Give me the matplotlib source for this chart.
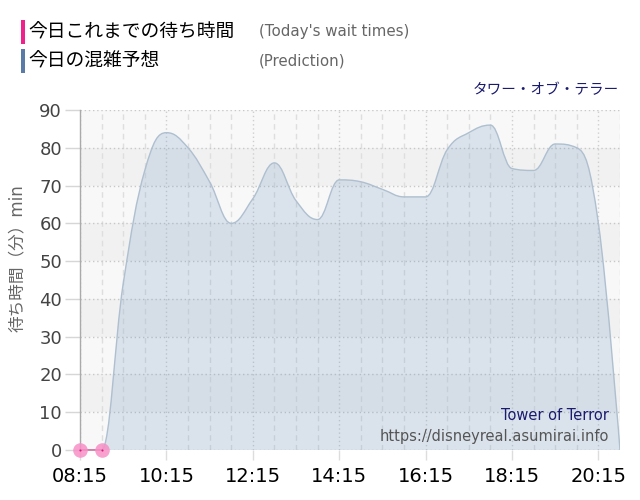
import matplotlib
matplotlib.use("Agg")
import matplotlib.pyplot as plt
from matplotlib.path import Path
from matplotlib.patches import PathPatch, Rectangle
import numpy as np

# ---------------- data ----------------
pred_times = [8.25, 8.75, 9.25, 9.75, 10.25, 10.75, 11.25, 11.75, 12.25, 12.75,
              13.25, 13.75, 14.25, 14.75, 15.25, 15.75, 16.25, 16.75, 17.25,
              17.75, 18.25, 18.75, 19.25, 19.75, 20.25, 20.75]
pred_values = [0, 0, 44, 74, 84, 80, 71, 60, 66.5, 76,
               66, 61, 71.5, 71, 69, 67, 67, 79.5, 84,
               86, 74.5, 74, 81, 80, 60, 0]
actual_times = [8.25, 8.75]
actual_values = [0, 0]
tick_pos = [8.25, 10.25, 12.25, 14.25, 16.25, 18.25, 20.25]
tick_labels = ["08:15", "10:15", "12:15", "14:15", "16:15", "18:15", "20:15"]
y_ticks = [0, 10, 20, 30, 40, 50, 60, 70, 80, 90]

plt.rcParams['font.family'] = ['DejaVu Sans', 'Noto Sans CJK JP']

W, H = 640, 500
fig = plt.figure(figsize=(6.4, 5.0), dpi=100)
ax = fig.add_axes([80 / W, 1 - 450 / H, 540 / W, 340 / H])
ax.set_xlim(8.25, 20.75)
ax.set_ylim(0, 90)
ax.set_facecolor('white')

# alternating bands
for lo in range(0, 90, 10):
    c = '#f8f8f8' if (lo // 10) % 2 == 0 else '#f1f1f1'
    ax.axhspan(lo, lo + 10, color=c, zorder=0, lw=0)

# vertical grid every 30 min
t = 8.25
while t <= 20.75 + 1e-9:
    if any(abs(t - tp) < 1e-6 for tp in tick_pos):
        ax.axvline(t, color='#cfcfcf', lw=1, ls=(0, (1, 2)), zorder=1)
    else:
        ax.axvline(t, color='#dedede', lw=1, ls=(0, (4, 3)), zorder=1)
    t += 0.5
# horizontal grid
for yv in y_ticks:
    ax.axhline(yv, color='#c8c8c8', lw=1, ls=(0, (1, 2)), zorder=1)


# spline (Highcharts-like areaspline)
def spline_path(xs, ys, closed):
    n = len(xs)
    sm = 1.5
    den = sm + 1
    lc = [None] * n
    rc = [None] * n
    for i in range(n):
        x, y = xs[i], ys[i]
        if i == 0 or i == n - 1:
            lc[i] = (x, y)
            rc[i] = (x, y)
            continue
        lx, ly = xs[i - 1], ys[i - 1]
        nx, ny = xs[i + 1], ys[i + 1]
        lcx = (sm * x + lx) / den
        lcy = (sm * y + ly) / den
        rcx = (sm * x + nx) / den
        rcy = (sm * y + ny) / den
        if rcx != lcx:
            corr = (rcy - lcy) * (rcx - x) / (rcx - lcx) + y - rcy
            lcy += corr
            rcy += corr
            if lcy > ly and lcy > y:
                lcy = max(ly, y)
                rcy = 2 * y - lcy
            elif lcy < ly and lcy < y:
                lcy = min(ly, y)
                rcy = 2 * y - lcy
            if rcy > ny and rcy > y:
                rcy = max(ny, y)
                lcy = 2 * y - rcy
            elif rcy < ny and rcy < y:
                rcy = min(ny, y)
                lcy = 2 * y - rcy
        lc[i] = (lcx, lcy)
        rc[i] = (rcx, rcy)
    verts, codes = [], []
    if closed:
        verts += [(xs[0], 0), (xs[0], ys[0])]
        codes += [Path.MOVETO, Path.LINETO]
    else:
        verts += [(xs[0], ys[0])]
        codes += [Path.MOVETO]
    for i in range(1, n):
        verts += [rc[i - 1], lc[i], (xs[i], ys[i])]
        codes += [Path.CURVE4] * 3
    if closed:
        verts += [(xs[-1], 0), (xs[0], 0)]
        codes += [Path.LINETO, Path.CLOSEPOLY]
    return Path(verts, codes)


ax.add_patch(PathPatch(spline_path(pred_times, pred_values, True),
                       facecolor='#6693c0', alpha=0.2, edgecolor='none', zorder=2))
ax.add_patch(PathPatch(spline_path(pred_times, pred_values, False),
                       facecolor='none', edgecolor='#aebfd0', lw=1, zorder=3))

# today's actual points
ax.plot(actual_times, actual_values, color='#d0709f', lw=1.2, zorder=4, clip_on=False)
ax.plot(actual_times, actual_values, 'o', ms=10.5, mfc='#f78fc6', mec='none',
        alpha=0.85, zorder=5, clip_on=False)
ax.plot(actual_times, actual_values, 'o', ms=1.5, mfc='#d81b7a', mec='none',
        zorder=6, clip_on=False)

# spines
for s in ['top', 'right', 'bottom']:
    ax.spines[s].set_visible(False)
ax.spines['left'].set_color('#aaaaaa')
ax.spines['left'].set_linewidth(1)
ax.spines['left'].set_zorder(4.5)

ax.set_xticks(tick_pos)
ax.set_xticklabels(tick_labels, fontsize=14, color='black')
ax.set_yticks(y_ticks)
ax.set_yticklabels([str(v) for v in y_ticks], fontsize=13, color='#444444')
ax.tick_params(axis='x', length=7, color='#dddddd', width=1, pad=5)
ax.tick_params(axis='y', length=11, color='#d6d6d6', width=1, pad=2)

fig.text(17 / W, 1 - 258 / H, '待ち時間（分）min', rotation=90, ha='center', va='center',
         fontsize=12, color='#666666')

# legend
fig.add_artist(Rectangle((20.5 / W, 1 - 43.5 / H), 4.5 / W, 23.5 / H,
                         transform=fig.transFigure, color='#f0208c', lw=0))
fig.add_artist(Rectangle((20.5 / W, 1 - 73 / H), 4.5 / W, 23.5 / H,
                         transform=fig.transFigure, color='#5b7ba6', lw=0))
fig.text(28 / W, 1 - 32 / H, '今日これまでの待ち時間', fontsize=13.5, color='black',
         ha='left', va='center', family=['Noto Sans CJK JP'])
fig.text(28 / W, 1 - 61 / H, '今日の混雑予想', fontsize=13.5, color='black',
         ha='left', va='center', family=['Noto Sans CJK JP'])
fig.text(259 / W, 1 - 31.5 / H, "(Today's wait times)", fontsize=10.8, color='#666666',
         ha='left', va='center')
fig.text(259 / W, 1 - 61 / H, "(Prediction)", fontsize=10.8, color='#666666',
         ha='left', va='center')
fig.text(619 / W, 1 - 90 / H, 'タワー・オブ・テラー', fontsize=10.5, color='#1a1a6e',
         ha='right', va='center', family=['Noto Sans CJK JP'])

# watermark
fig.text(609 / W, 1 - 415 / H, 'Tower of Terror', fontsize=10.5, color='#1a1a6e',
         ha='right', va='center')
fig.text(609 / W, 1 - 436 / H, 'https://disneyreal.asumirai.info', fontsize=10.5,
         color='#555555', ha='right', va='center')

fig.savefig('out.png', dpi=100)
